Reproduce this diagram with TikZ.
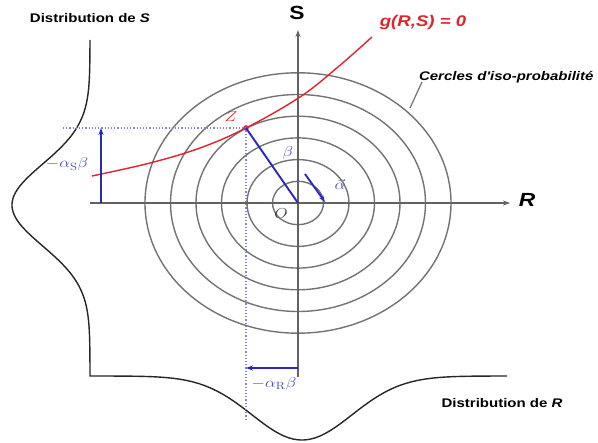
\documentclass[tikz,border=0pt]{standalone}
\usepackage{fontspec}
\usepackage{graphicx}
\usetikzlibrary{arrows.meta}
\newfontfamily\labfont{Liberation Sans}
\definecolor{vecblue}{RGB}{40,40,195}
\definecolor{mathblue}{RGB}{75,75,200}
\definecolor{limred}{RGB}{225,35,45}
\definecolor{isogray}{RGB}{115,115,115}
\newcommand{\wide}[1]{\scalebox{1.2}[1]{#1}}

\begin{document}
\begin{tikzpicture}[x=1pt, y=-1pt, >={Stealth[length=7pt,width=5pt]},
    iso/.style={isogray, line width=1.4pt},
    axe/.style={isogray!85!black, line width=1.4pt, ->},
    vec/.style={vecblue, line width=1.9pt},
    proj/.style={mathblue!70, line width=1.2pt, dotted},
    dist/.style={black!85, line width=1.4pt},
    lab/.style={font=\labfont\bfseries\fontsize{12.5}{14}\selectfont},
    axlab/.style={font=\labfont\bfseries\fontsize{19}{22}\selectfont},
    mlab/.style={mathblue, font=\fontsize{15}{17}\selectfont}]

  \useasboundingbox (0,0) rectangle (598,443);

  \def\Ox{298}  \def\Oy{203}
  \def\ax{25.5} \def\ay{21.7}

  \coordinate (O) at (\Ox,\Oy);
  \coordinate (Z) at (246,128);

  % cercles d'iso-probabilite
  \foreach \k in {1,...,6}
    \draw[iso] (O) ellipse ({\k*\ax} and {\k*\ay});

  % axes
  \coordinate (Rstart) at (90,\Oy);
  \coordinate (Rend) at (510,\Oy);
  \coordinate (Sstart) at (\Ox,377);
  \coordinate (Send) at (\Ox,30);
  \draw[axe] (Rstart) -- (Rend);
  \draw[axe] (Sstart) -- (Send);
  \node[axlab] (Slab) at (297,13) {\wide{S}};
  \node[axlab] (Rlab) at (527,200) {\wide{\textit{R}}};
  \node[mlab, black!75] (Olab) at (281,214) {\wide{$O$}};

  % densites marginales
  \draw[dist] plot[domain=40:376, samples=120] ({90-78*exp(-0.5*((\x-205)/41)^2)}, \x)
    -- plot[domain=90:507, samples=120] (\x, {376+64*exp(-0.5*((\x-302)/50)^2)});
  \node[lab] (distS) at (90,18) {\wide{Distribution de \textit{S}}};
  \node[lab] (distR) at (502,403) {\wide{Distribution de \textit{R}}};

  % etat limite
  \draw[limred, line width=1.4pt] plot[smooth, tension=0.6]
    coordinates {(92,176) (150,163) (200,148) (246,128) (300,97) (338,67) (372,37)};
  \fill[limred] (Z) circle (2.8);
  \node[limred, font=\fontsize{15}{17}\selectfont] (Zlab) at (231,117) {\wide{$Z$}};
  \node[font=\labfont\bfseries\itshape\fontsize{15.5}{18}\selectfont, limred] (glab) at (423,22) {\wide{g(R,S) = 0}};

  % projections
  \coordinate (Sproj) at (63,128);
  \coordinate (Rproj) at (246,420);
  \draw[proj] (Sproj) -- (Z) -- (Rproj);

  % vecteurs
  \draw[vec] (Z) -- (O);
  \node[mlab] (betalab) at (288,153) {\wide{$\beta$}};
  \coordinate (a0) at (305,174);
  \coordinate (a1) at (325,202);
  \draw[vec, ->] (a0) -- (a1);
  \node[mlab] (alphalab) at (340,184) {\wide{$\vec{\alpha}$}};

  \coordinate (bS0) at (101,\Oy);
  \coordinate (bS1) at (101,128);
  \draw[vec, ->] (bS0) -- (bS1);
  \node[mlab] (aSlab) at (67,164) {\wide{$-\alpha_{\mathrm{S}}\beta$}};
  \coordinate (bR0) at (\Ox,368);
  \coordinate (bR1) at (246,368);
  \draw[vec, ->] (bR0) -- (bR1);
  \node[mlab] (aRlab) at (274,384) {\wide{$-\alpha_{\mathrm{R}}\beta$}};

  % legende des cercles
  \coordinate (iso0) at (410,108);
  \coordinate (iso1) at (422,82);
  \draw[isogray, line width=1.2pt] (iso0) -- (iso1);
  \node[lab, anchor=east] (isolab) at (597,77) {\wide{\textit{Cercles d'iso-probabilité}}};

\end{tikzpicture}
\end{document}
